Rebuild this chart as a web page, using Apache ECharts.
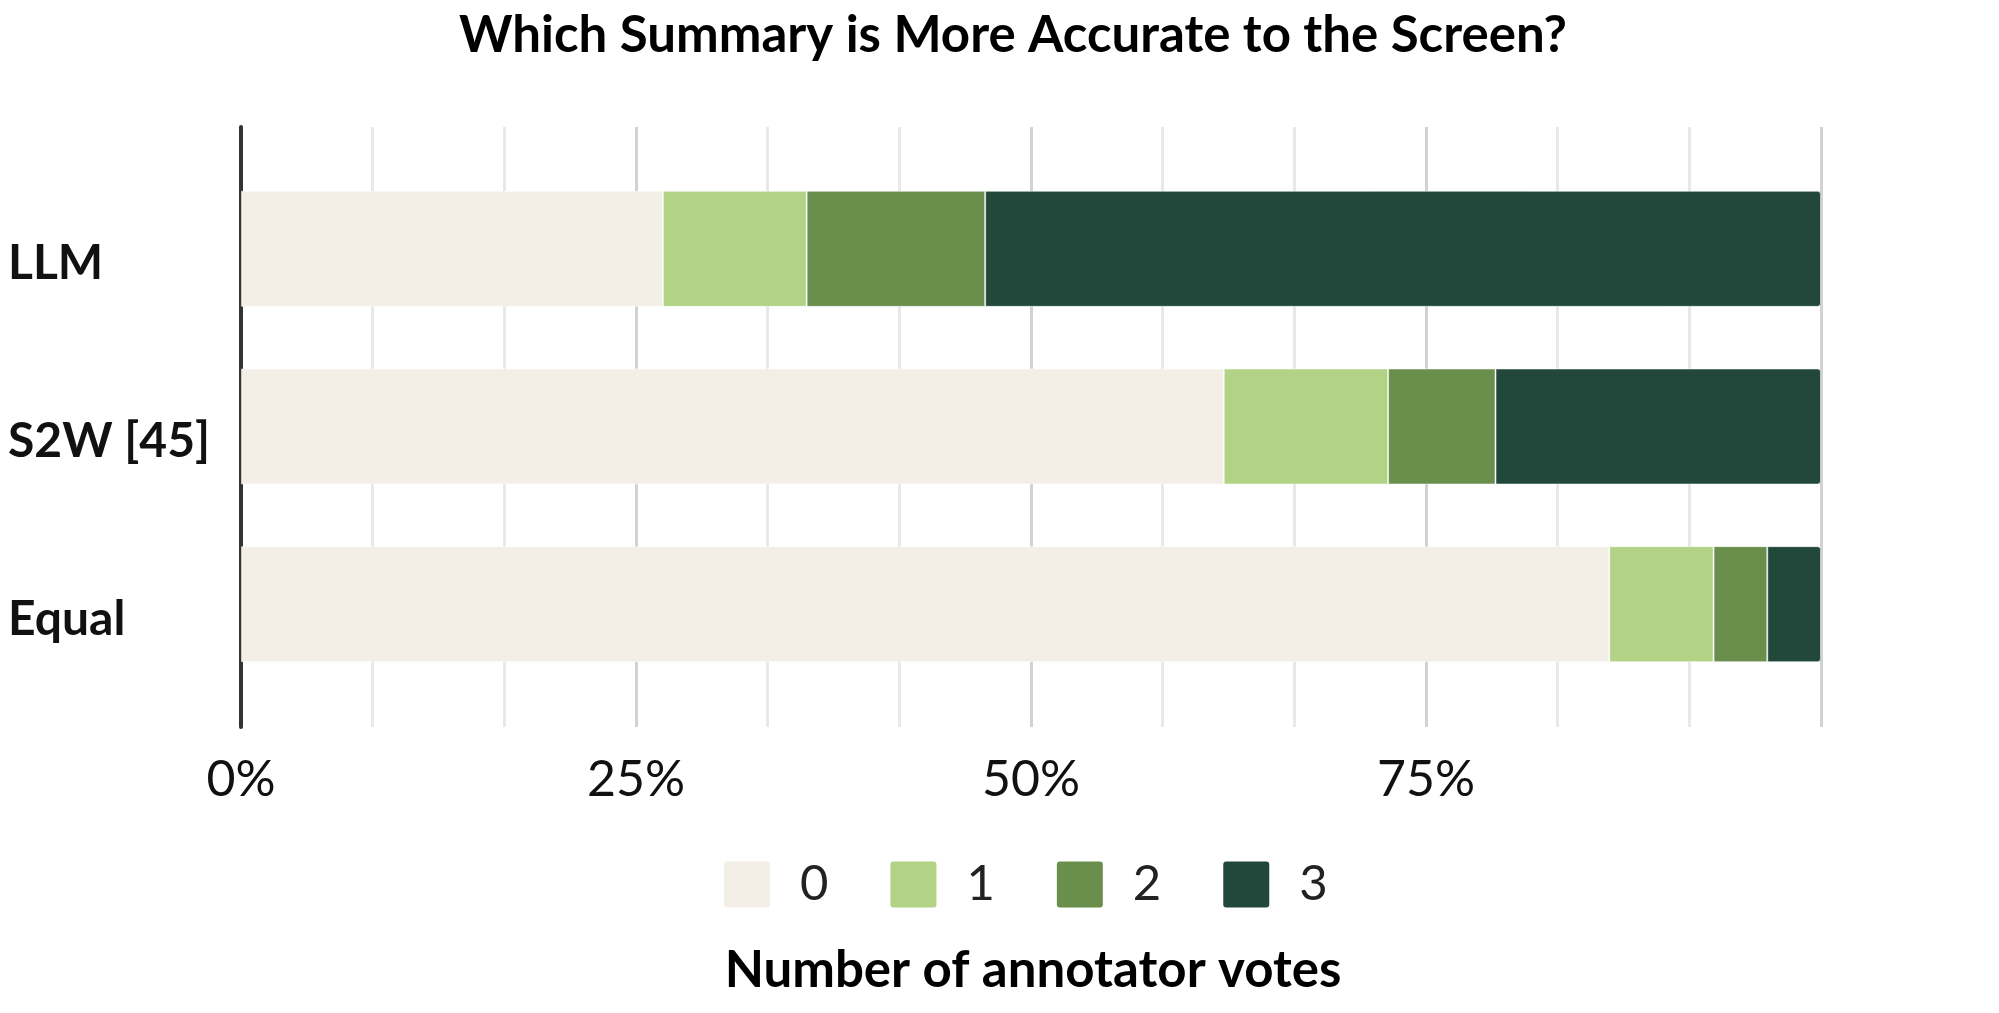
<!DOCTYPE html>
<html>
<head>
<meta charset="utf-8">
<script src="https://cdn.jsdelivr.net/npm/echarts@6/dist/echarts.min.js"></script>
<style>
  html, body { margin: 0; padding: 0; background: #fff; }
  #chart { width: 1999px; height: 1013px; }
</style>
</head>
<body>
<div id="chart"></div>
<script>
// categories and vote shares (percent of summaries)
const categories = ['LLM', 'S2W [45]', 'Equal']
const voteLevels = ['0', '1', '2', '3']
const votes0 = [26.7, 62.2, 86.6]
const votes1 = [9.1, 10.4, 6.6]
const votes2 = [11.3, 6.8, 3.4]
const votes3 = [52.9, 20.6, 3.4]
const colors = ['#f3efe7', '#b2d386', '#6a8f4d', '#22483b']

const FONT = 'Lato'
const chart = echarts.init(document.getElementById('chart'))

const seriesData = [votes0, votes1, votes2, votes3]
const series = seriesData.map((vals, i) => ({
  name: voteLevels[i],
  type: 'bar',
  stack: 'total',
  xAxisIndex: 1,
  yAxisIndex: 1,
  barWidth: 116,
  data: vals,
  itemStyle: {
    color: colors[i],
    borderColor: 'rgba(255,255,255,0.5)',
    borderWidth: 1,
    borderRadius: i === 3 ? [0, 3, 3, 0] : 0
  }
}))

const option = {
  backgroundColor: '#fff',
  animation: false,
  title: [
    {
      text: 'Which Summary is More Accurate to the Screen?',
      left: 1008,
      top: 3,
      textAlign: 'center',
      textStyle: { fontFamily: FONT, fontWeight: 'bold', fontSize: 51, color: '#000', lineHeight: 56 }
    },
    {
      text: 'Number of annotator votes',
      left: 1028,
      top: 938,
      textAlign: 'center',
      textStyle: { fontFamily: FONT, fontWeight: 'bold', fontSize: 51, color: '#000', lineHeight: 56 }
    }
  ],
  legend: {
    data: voteLevels,
    left: 719,
    top: 855,
    itemWidth: 46,
    itemHeight: 46,
    itemGap: 62,
    icon: 'path://M3,0 H43 Q46,0 46,3 V43 Q46,46 43,46 H3 Q0,46 0,43 V3 Q0,0 3,0 Z',
    itemStyle: { borderWidth: 0 },
    textStyle: { fontFamily: FONT, fontSize: 49, color: '#222', padding: [0, 0, 0, 25] }
  },
  grid: [
    { left: 241, right: 178, top: 127, bottom: 286 },
    { left: 241, right: 178, top: 160, bottom: 320 }
  ],
  xAxis: [
    {
      gridIndex: 0,
      type: 'value',
      min: 0,
      max: 100,
      interval: 25,
      axisLine: { show: false },
      axisTick: { show: false },
      minorTick: { show: false, splitNumber: 3 },
      axisLabel: {
        margin: 28,
        fontFamily: FONT,
        fontSize: 50,
        color: '#111',
        formatter: v => (v === 100 ? '' : v + '%')
      },
      splitLine: { show: true, lineStyle: { color: '#d2d2d2', width: 3 } },
      minorSplitLine: { show: true, lineStyle: { color: '#e8e8e8', width: 3 } }
    },
    {
      gridIndex: 1,
      type: 'value',
      min: 0,
      max: 100,
      show: false
    }
  ],
  yAxis: [
    {
      gridIndex: 0,
      type: 'value',
      min: 0,
      max: 1,
      axisLine: { show: true, lineStyle: { color: '#333', width: 4 } },
      axisTick: { show: false },
      axisLabel: { show: false },
      splitLine: { show: false }
    },
    {
      gridIndex: 1,
      type: 'category',
      inverse: true,
      data: categories,
      axisLine: { show: false },
      axisTick: { show: false },
      splitLine: { show: false },
      axisLabel: {
        align: 'left',
        verticalAlign: 'top',
        lineHeight: 30,
        margin: 233,
        fontFamily: FONT,
        fontWeight: 'bold',
        fontSize: 48,
        color: '#111'
      }
    }
  ],
  series: series
}

chart.setOption(option)
</script>
</body>
</html>
